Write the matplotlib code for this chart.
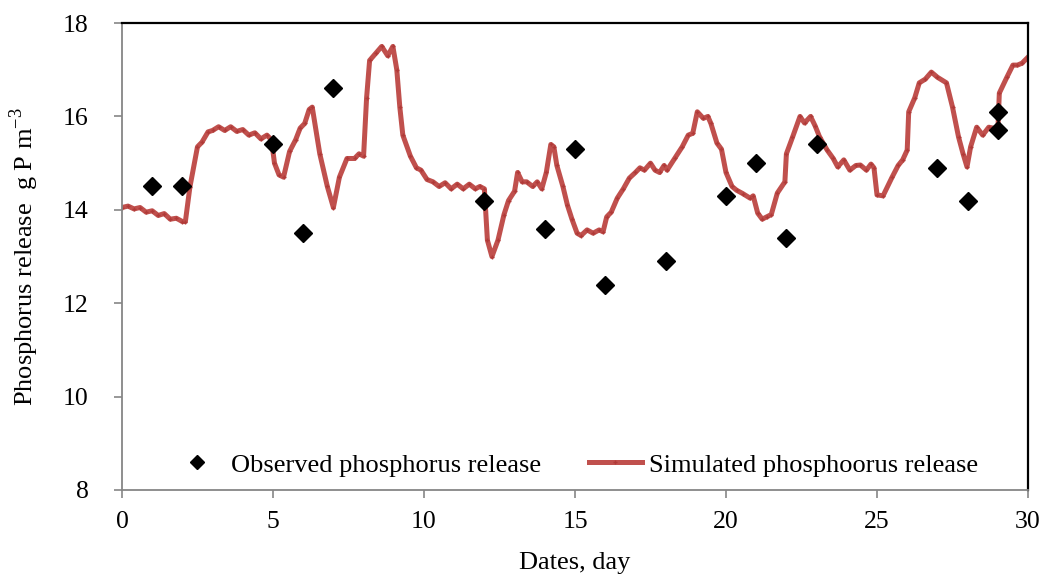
import matplotlib
matplotlib.use("Agg")
import matplotlib.pyplot as plt

plt.rcParams['font.family'] = ['Liberation Serif', 'DejaVu Serif']
plt.rcParams['mathtext.fontset'] = 'custom'
plt.rcParams['mathtext.rm'] = 'Liberation Serif'

obs_day = [1, 2, 5, 6, 7, 12, 14, 15, 16, 18, 20, 21, 22, 23, 27, 28, 29, 29]
obs_val = [14.5, 14.5, 15.4, 13.5, 16.6, 14.2, 13.6, 15.3, 12.4, 12.9, 14.3, 15.0, 13.4, 15.4, 14.9, 14.2, 16.1, 15.7]

sim_day = [0, 0.2, 0.4, 0.6, 0.8, 1.0, 1.2, 1.4, 1.6, 1.8, 2.0, 2.1, 2.25, 2.5, 2.65, 2.85,
           3.0, 3.2, 3.4, 3.6, 3.8, 4.0, 4.2, 4.4, 4.6, 4.8, 4.95, 5.05, 5.2, 5.35, 5.55, 5.75,
           5.9, 6.05, 6.2, 6.3, 6.55, 6.8, 7.0, 7.2, 7.45, 7.7, 7.85, 8.0, 8.1, 8.2, 8.4, 8.6,
           8.8, 8.97, 9.1, 9.2, 9.3, 9.55, 9.75, 9.9, 10.1, 10.3, 10.5, 10.7, 10.9, 11.1, 11.3,
           11.5, 11.7, 11.85, 12.0, 12.1, 12.25, 12.45, 12.65, 12.8, 13.0, 13.1, 13.25, 13.4,
           13.6, 13.75, 13.9, 14.05, 14.2, 14.3, 14.4, 14.6, 14.75, 14.9, 15.07, 15.2, 15.4,
           15.6, 15.8, 15.93, 16.05, 16.2, 16.4, 16.6, 16.8, 17.0, 17.15, 17.3, 17.5, 17.65,
           17.8, 17.95, 18.05, 18.3, 18.55, 18.75, 18.9, 19.05, 19.25, 19.4, 19.5, 19.7, 19.85,
           20.0, 20.2, 20.35, 20.55, 20.8, 20.9, 21.05, 21.2, 21.35, 21.5, 21.7, 21.95, 22.0,
           22.2, 22.45, 22.6, 22.8, 22.95, 23.1, 23.35, 23.55, 23.7, 23.9, 24.1, 24.3, 24.45,
           24.65, 24.8, 24.9, 25.0, 25.2, 25.5, 25.7, 25.85, 26.0, 26.05, 26.25, 26.4, 26.6,
           26.8, 27.0, 27.3, 27.5, 27.7, 27.85, 27.98, 28.1, 28.3, 28.5, 28.7, 28.85, 29.0,
           29.05, 29.3, 29.5, 29.65, 29.8, 30.0]
sim_val = [14.05, 14.08, 14.02, 14.05, 13.95, 13.98, 13.88, 13.92, 13.8, 13.82, 13.75, 13.75,
           14.49, 15.35, 15.45, 15.67,
           15.7, 15.78, 15.7, 15.78, 15.68, 15.72, 15.6, 15.65, 15.52, 15.6, 15.5, 15.0, 14.75,
           14.7, 15.25, 15.5,
           15.75, 15.85, 16.15, 16.2, 15.2, 14.5, 14.05, 14.7, 15.1, 15.1, 15.2, 15.15, 16.4,
           17.2, 17.35, 17.5,
           17.3, 17.5, 17.0, 16.2, 15.6, 15.15, 14.9, 14.85, 14.65, 14.6, 14.5, 14.58, 14.45,
           14.55, 14.45,
           14.55, 14.45, 14.5, 14.45, 13.35, 13.0, 13.35, 13.9, 14.2, 14.4, 14.8, 14.6, 14.6,
           14.5, 14.6, 14.45, 14.8, 15.4, 15.35, 14.95, 14.5, 14.1, 13.8, 13.5, 13.45, 13.57,
           13.5, 13.57, 13.53, 13.85, 13.95, 14.25, 14.45, 14.68, 14.8, 14.9, 14.85, 15.0, 14.85,
           14.8, 14.95, 14.85, 15.1, 15.35, 15.6, 15.64, 16.1, 15.96, 16.0, 15.85, 15.43, 15.3,
           14.8, 14.5, 14.42, 14.35, 14.25, 14.3, 13.93, 13.8, 13.85, 13.9, 14.36, 14.6, 15.2,
           15.55, 16.0, 15.86, 16.0, 15.8, 15.56, 15.28, 15.1, 14.92, 15.07, 14.85, 14.95, 14.96,
           14.85, 14.98, 14.9, 14.32, 14.3, 14.7, 14.95, 15.07, 15.28, 16.1, 16.4, 16.72, 16.8,
           16.95, 16.84, 16.72, 16.2, 15.56, 15.2, 14.92, 15.35, 15.77, 15.6, 15.77, 15.75, 15.67,
           16.5, 16.84, 17.1, 17.1, 17.14, 17.27]

x_ticks = [0, 5, 10, 15, 20, 25, 30]
y_ticks = [8, 10, 12, 14, 16, 18]

fig = plt.figure(figsize=(10.46, 5.77), dpi=100)
ax = fig.add_axes([0.1166, 0.1508, 0.8662, 0.8092])

ax.plot(obs_day, obs_val, linestyle='none', marker='D', markersize=9, color='black',
        label='Observed phosphorus release', zorder=3)
ax.plot(sim_day, sim_val, color='#C0504D', linewidth=3.6, marker='+', markersize=3,
        markeredgecolor='#B03A38', label='Simulated phosphoorus release', zorder=2)

ax.set_xlim(0, 30)
ax.set_ylim(8, 18)
ax.set_xticks(x_ticks)
ax.set_yticks(y_ticks)
ax.tick_params(direction='out', length=6, width=1.2, color='#868686', labelsize=18.5)
ax.tick_params(axis='y', pad=18)
ax.tick_params(axis='x', pad=9)

for s in ['left', 'bottom']:
    ax.spines[s].set_color('#868686')
    ax.spines[s].set_linewidth(1.3)
for s in ['top', 'right']:
    ax.spines[s].set_color('black')
    ax.spines[s].set_linewidth(1.6)

ax.set_xlabel('Dates, day', fontsize=19, labelpad=14)
ax.set_ylabel('Phosphorus release  g P m$^{-3}$', fontsize=19, labelpad=16)

ax.legend(loc='lower center', ncol=2, frameon=False, fontsize=19, bbox_to_anchor=(0.4995, -0.022),
          handlelength=2.0, columnspacing=1.8, handletextpad=0.3, markerscale=0.8)

fig.savefig('out.png', dpi=100)
